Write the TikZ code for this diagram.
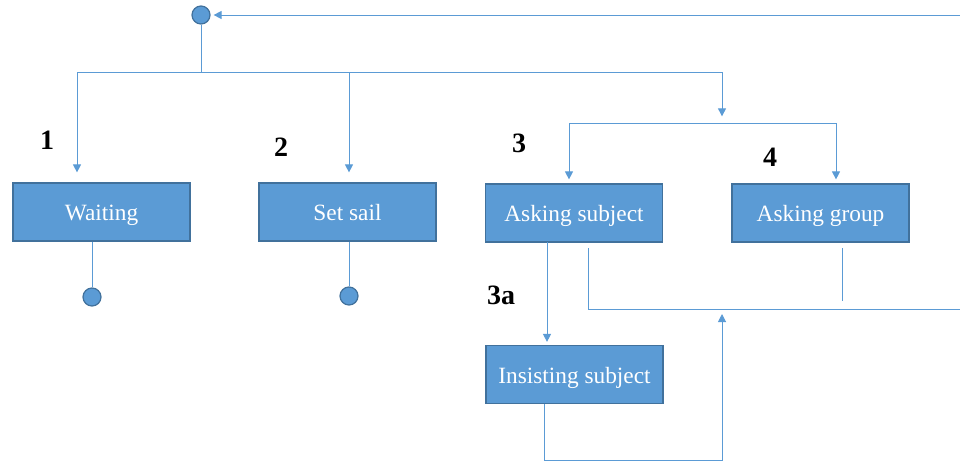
\documentclass[tikz,border=0pt]{standalone}
\usepackage{fontspec}
\setmainfont{Liberation Serif}
\usetikzlibrary{arrows.meta}
\definecolor{BoxBlue}{RGB}{91,155,213}
\definecolor{EdgeBlue}{RGB}{65,113,156}

\begin{document}
\begin{tikzpicture}[x=0.75pt,y=0.75pt,yscale=-1,xscale=1,
	link/.style={draw=BoxBlue, line width=0.75pt},
	arr/.style={link, -{Triangle[length=6pt,width=6pt]}},
	state/.style={draw=EdgeBlue, fill=BoxBlue, line width=0.9pt, minimum width=132.75pt, minimum height=43.5pt, inner sep=0pt, text height=13pt, text depth=0pt, text=white, font=\fontsize{17.5}{20}\selectfont},
	dot/.style={circle, draw=EdgeBlue, fill=BoxBlue, line width=0.9pt, minimum size=13.5pt, inner sep=0pt},
	num/.style={font=\fontsize{21}{24}\selectfont\bfseries, inner sep=0pt}]
		\useasboundingbox (0,0) rectangle (960,461);

		% The start dot at the top
		\node[dot] (top) at (201,15) {};

		% The states (boxes)
		\node[state] (wait) at (101.5,212) {Waiting};
		\node[state] (sail) at (347.5,212) {Set sail};
		\node[state] (asksub) at (574,213) {Asking subject};
		\node[state] (askgrp) at (820.5,213) {Asking group};
		\node[state] (insist) at (574.5,374.5) {Insisting subject};

		% The end dots below "Waiting" and "Set sail"
		\node[dot] (endwait) at (92,297) {};
		\node[dot] (endsail) at (349,296) {};

		% The numbers above the states
		\node[num] (n1) at (47,140) {1};
		\node[num] (n2) at (281,147) {2};
		\node[num] (n3) at (519,143) {3};
		\node[num] (n4) at (770,157) {4};
		\node[num] (n3a) at (501,295) {3a};

		% The line coming back from the right into the start dot
		\coordinate (rin) at (960,15);
		\draw[arr, shorten >=2.25pt] (rin) -- (top);

		% The bus below the start dot
		\coordinate (bus) at (201,72);
		\coordinate (busL) at (77,72);
		\coordinate (busS) at (349,72);
		\coordinate (busR) at (722,72);
		\draw[link] (top) -- (bus);
		\draw[link] (busL) -- (busR);
		\draw[arr, shorten >=7.5pt] (busL) -- (busL |- wait.north);
		\draw[arr, shorten >=7.5pt] (busS) -- (busS |- sail.north);

		% The fork to "Asking subject" and "Asking group"
		\coordinate (fork) at (722,123);
		\coordinate (forkL) at (569,123);
		\coordinate (forkR) at (836,123);
		\draw[arr, shorten >=5pt] (busR) -- (fork);
		\draw[link] (forkL) -- (forkR);
		\draw[arr, shorten >=3pt] (forkL) -- (forkL |- asksub.north);
		\draw[arr, shorten >=3pt] (forkR) -- (forkR |- askgrp.north);

		% The lines down to the end dots
		\draw[link] (endwait |- wait.south) -- (endwait);
		\draw[link] (endsail |- sail.south) -- (endsail);

		% From "Asking subject" to "Insisting subject"
		\coordinate (down) at (547,242);
		\draw[arr, shorten >=2.25pt] (down) -- (down |- insist.north);

		% The return line out to the right
		\coordinate (retA) at (588,248);
		\coordinate (retB) at (588,309);
		\coordinate (rout) at (960,309);
		\draw[link] (retA) -- (retB) -- (rout);
		\coordinate (grpA) at (842,248);
		\coordinate (grpB) at (842,301);
		\draw[link] (grpA) -- (grpB);

		% The loop below "Insisting subject"
		\coordinate (loopB) at (544,460);
		\coordinate (loopC) at (722,460);
		\coordinate (loopD) at (722,313);
		\draw[arr, shorten >=0.75pt] (loopB |- insist.south) -- (loopB) -- (loopC) -- (loopD);
	\end{tikzpicture}
\end{document}
